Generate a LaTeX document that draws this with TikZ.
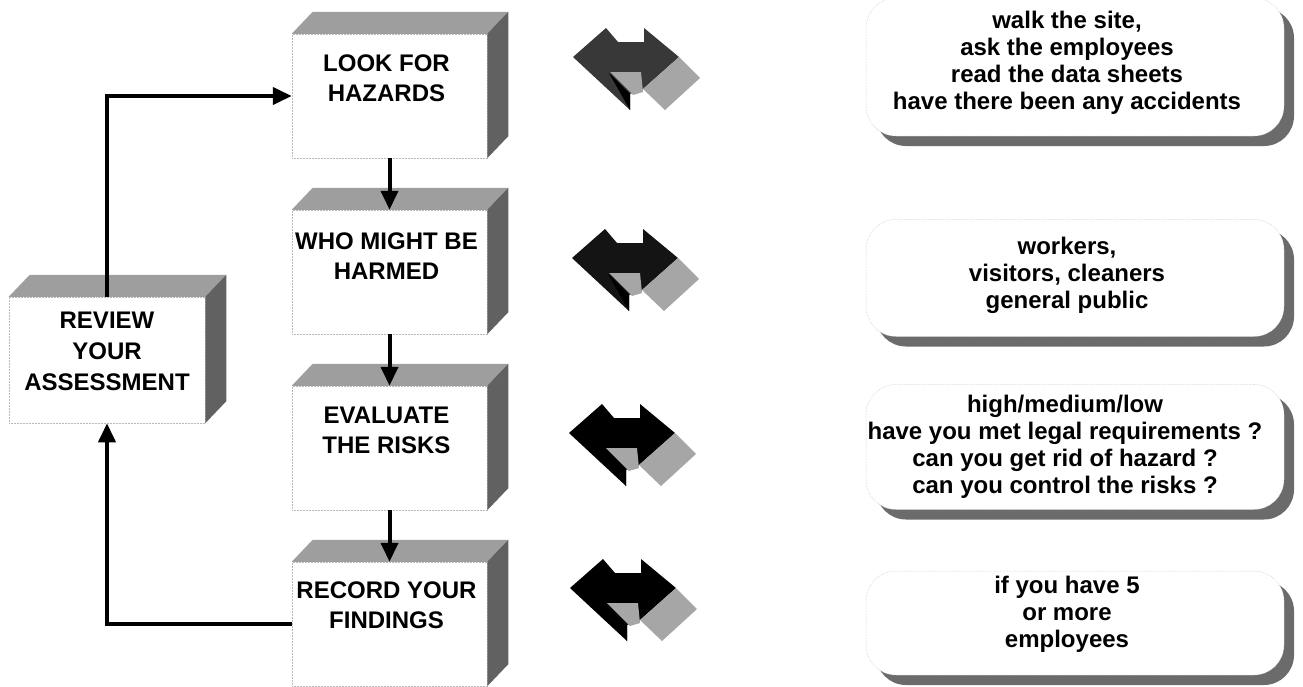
\documentclass[tikz,border=0pt]{standalone}
\usepackage{fontspec}
\setmainfont{Liberation Sans}
\usetikzlibrary{arrows.meta,shadows}

\begin{document}
\begin{tikzpicture}[x=1pt, y=-1pt,
  front/.style={draw=gray!55, densely dotted, line width=0.5pt, fill=white,
    minimum width=195pt, minimum height=124pt, inner sep=0pt},
  lbl/.style={font=\fontsize{24}{30}\selectfont\bfseries, align=center, inner sep=0pt},
  topface/.style={fill=black!38},
  sideface/.style={fill=black!62},
  flow/.style={line width=4pt, -{Triangle[length=19pt,width=17pt]}},
  bubble/.style={rounded corners=30pt, draw=gray!50, densely dotted, line width=0.5pt,
    fill=white, minimum width=418pt, inner sep=0pt,
    drop shadow={shadow xshift=10pt, shadow yshift=-10pt, fill=black!58, draw=none, opacity=1}},
  note/.style={font=\fontsize{24}{27}\selectfont\bfseries, align=center, inner sep=0pt}]
  \useasboundingbox (0,0) rectangle (1303,686);

  % the four steps and the review box
  \node[front, label={[lbl, xshift=-3pt, yshift=18pt]center:{LOOK FOR\\HAZARDS}}] (look) at (389.5,96) {};
  \node[front, label={[lbl, xshift=-3pt, yshift=16pt]center:{WHO MIGHT BE\\HARMED}}] (who) at (389.5,272) {};
  \node[front, label={[lbl, xshift=-3pt, yshift=18pt]center:{EVALUATE\\THE RISKS}}] (risks) at (389.5,448) {};
  \node[front, label={[lbl, xshift=-3pt, yshift=19pt]center:{RECORD YOUR\\FINDINGS}}] (record) at (389.5,624) {};
  \node[front, minimum width=196pt, minimum height=126pt,
    label={[lbl, font=\fontsize{24}{31}\selectfont\bfseries, yshift=9pt]center:{REVIEW\\YOUR\\ASSESSMENT}}] (review) at (107,360) {};

  % top and side faces
  \foreach \b in {look,who,risks,record,review}{
    \fill[topface] (\b.north west) -- ++(21,-22) -- ([shift={(21,-22)}]\b.north east) -- (\b.north east) -- cycle;
    \fill[sideface] (\b.north east) -- ++(21,-22) -- ([shift={(21,-22)}]\b.south east) -- (\b.south east) -- cycle;
  }

  \draw[flow] (look.south) -- (who.north);
  \draw[flow] (who.south) -- (risks.north);
  \draw[flow] (risks.south) -- (record.north);
  \draw[flow] (review.north) |- (look.west);
  \draw[flow] (record.west) -| (review.south);

  % swap arrows
  \foreach \x/\y/\dark in {573/57/black!78, 572/258/black!92, 569/433/black, 570/588/black}{
    \begin{scope}[shift={(\x,\y)}]
      \fill[\dark] (0,0) -- (33,-29) -- (45,-15) -- (71,-15) -- (71,-29) -- (106,0) -- (70,32) -- (57,37) -- (57,53) -- cycle;
      \fill[black] (36,16) -- (57,37) -- (57,53) -- cycle;
      \fill[black!35] (106,0) -- (127,21) -- (92,53) -- (70,32) -- cycle;
      \fill[black!35] (37,15) -- (68,15) -- (70,35) -- (60,38) -- cycle;
    \end{scope}
  }

  % notes
  \node[bubble, minimum height=138pt,
    label={[note, xshift=-8pt, yshift=4pt]center:{walk the site,\\ask the employees\\read the data sheets\\have there been any accidents}}] (walk) at (1075,67) {};
  \node[bubble, minimum height=117pt,
    label={[note, xshift=-8pt, yshift=3pt]center:{workers,\\visitors, cleaners\\general public}}] (people) at (1075,278) {};
  \node[bubble, minimum height=125pt,
    label={[note, xshift=-10pt]center:{high/medium/low\\have you met legal requirements ?\\can you get rid of hazard ?\\can you control the risks ?}}] (levels) at (1075,447) {};
  \node[bubble, minimum height=104pt,
    label={[note, xshift=-8pt, yshift=9pt]center:{if you have 5\\or more\\employees}}] (staff) at (1075,623) {};
\end{tikzpicture}
\end{document}
